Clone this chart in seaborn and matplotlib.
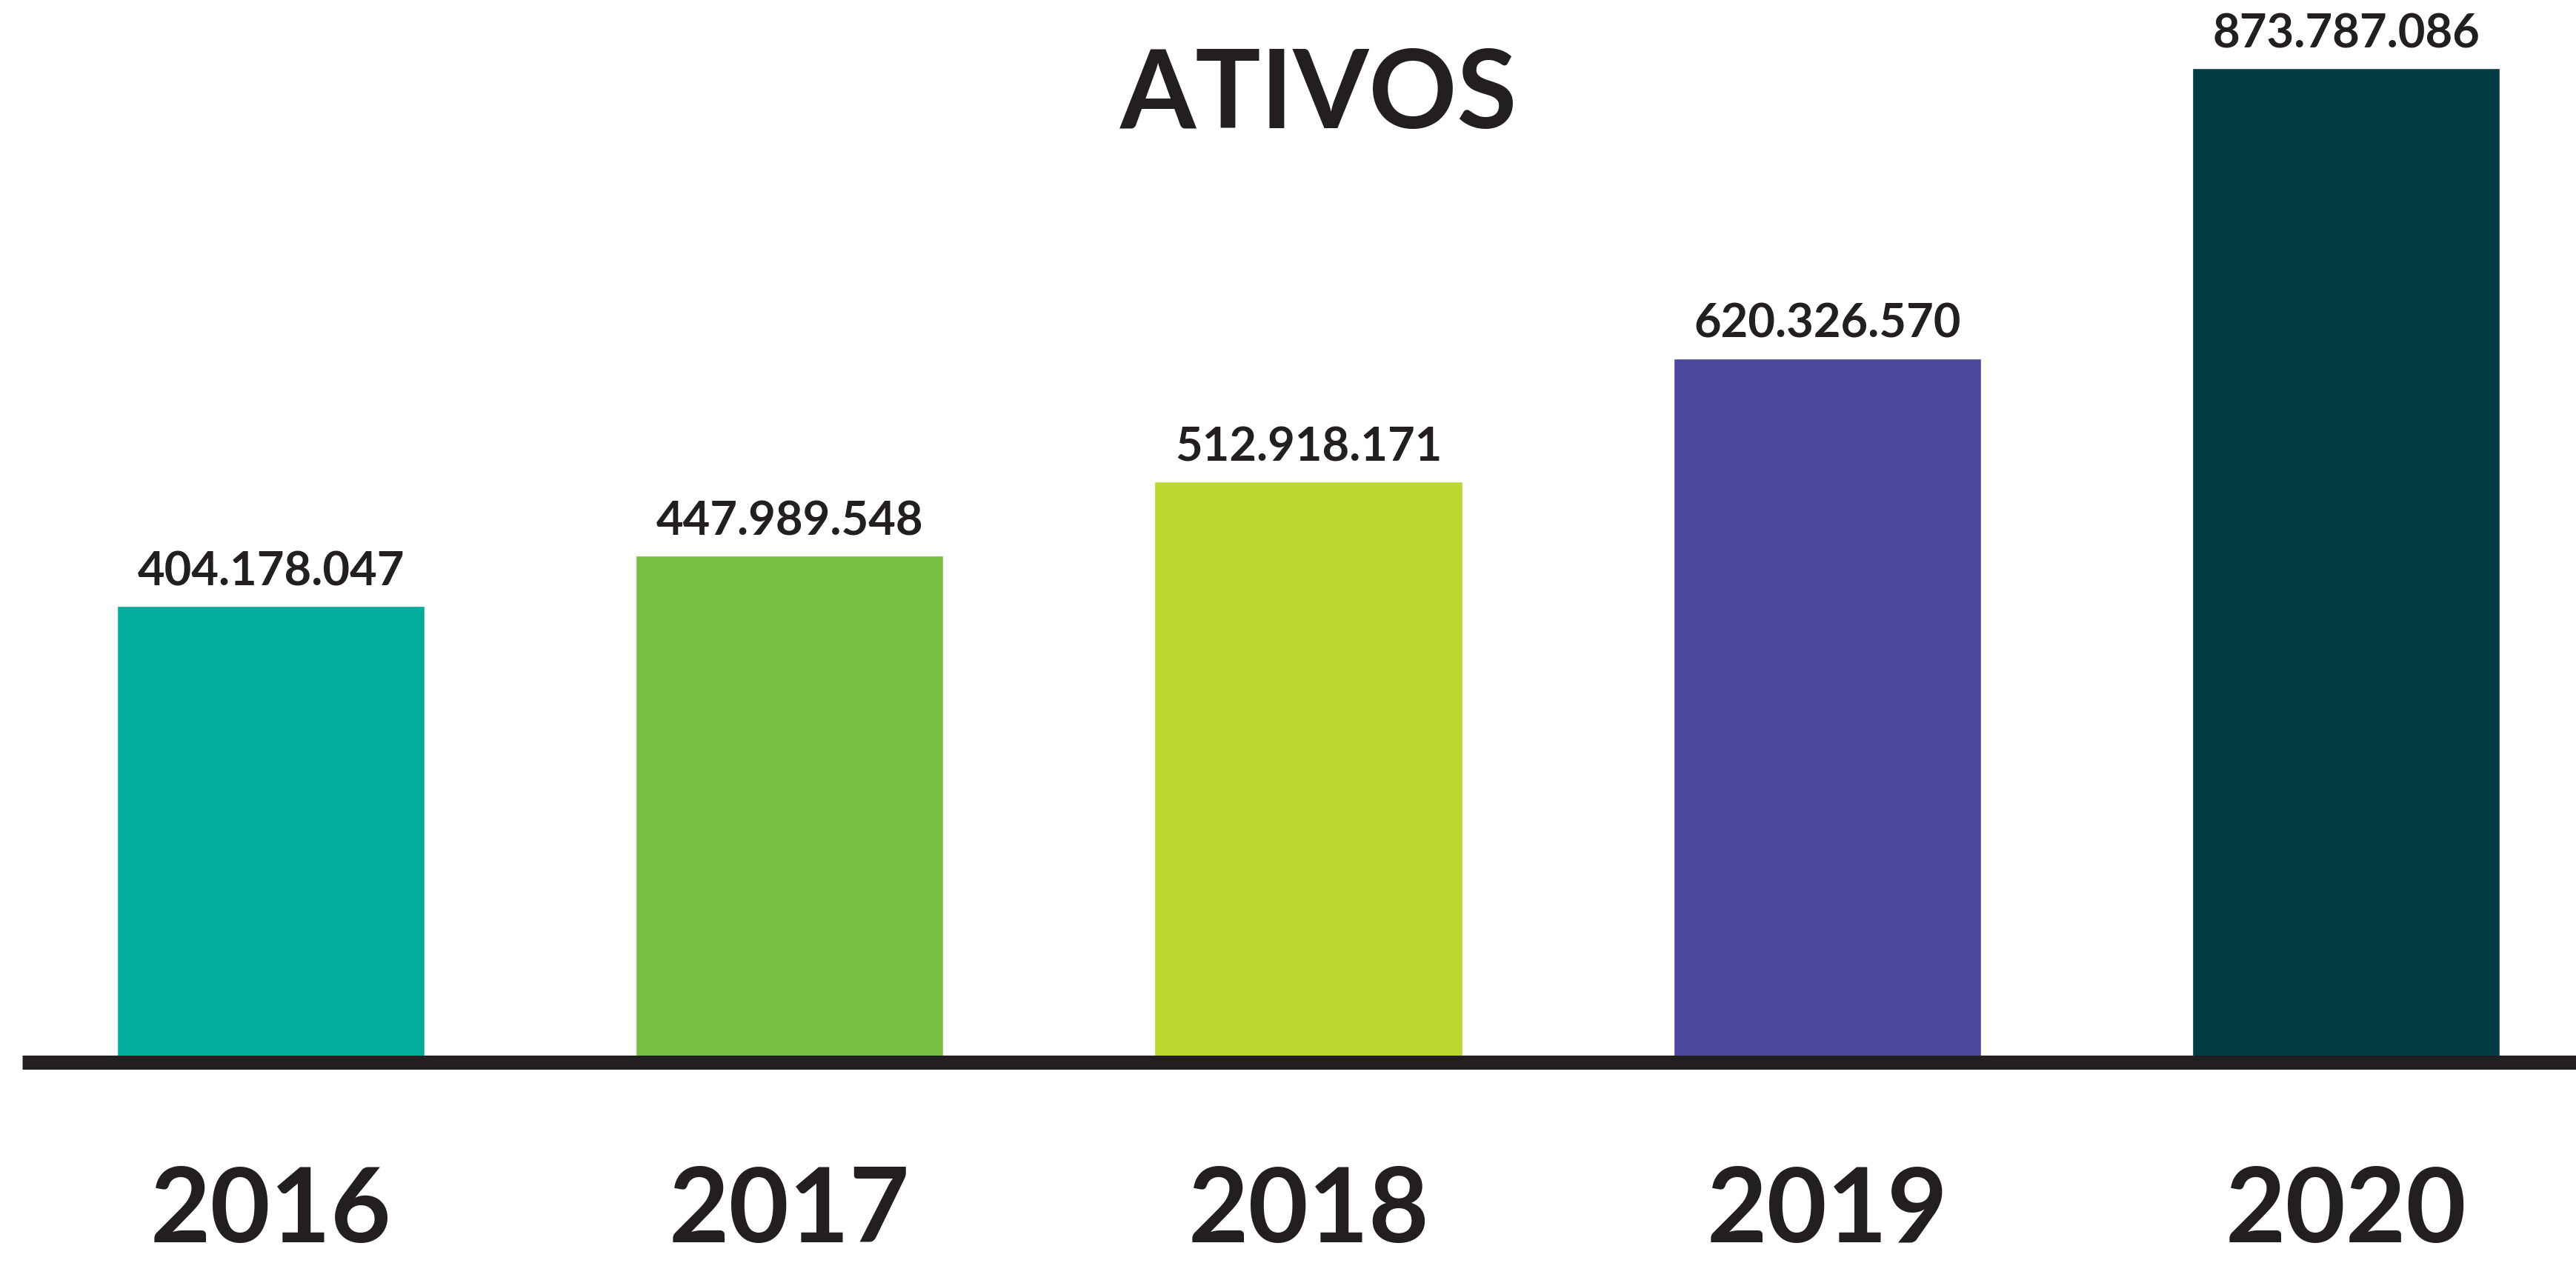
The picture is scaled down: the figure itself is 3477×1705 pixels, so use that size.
import matplotlib
matplotlib.use("Agg")
import matplotlib.pyplot as plt
import matplotlib.transforms as mtransforms
import seaborn as sns

# Data
years = ["2016", "2017", "2018", "2019", "2020"]
ativos = [404178047, 447989548, 512918171, 620326570, 873787086]
labels = ["404.178.047", "447.989.548", "512.918.171", "620.326.570", "873.787.086"]
colors = ["#02AE9B", "#77C044", "#BED731", "#4A479C", "#033C45"]
title = "ATIVOS"

TEXT = "#231F20"
W, H, DPI = 3477, 1706, 100

sns.set_theme(style="white")
plt.rcParams["font.family"] = ["Lato", "DejaVu Sans"]

fig = plt.figure(figsize=(W / DPI, H / DPI), dpi=DPI)
fig.patch.set_facecolor("white")

# axes spans the full width; y = 0 sits on the lower edge of the dark base rule
zero_px = 1444
ymax = 900e6
px_per_unit = 1.546e-6
ax_h = ymax * px_per_unit
ax = fig.add_axes([0, (H - zero_px) / H, 1, ax_h / H])
ax.set_facecolor("white")

sns.barplot(x=years, y=ativos, hue=years, palette=colors, saturation=1,
            width=0.593, legend=False, ax=ax)

ax.set_xlim(-0.522, 4.4434)
ax.set_ylim(0, ymax)
for s in ax.spines.values():
    s.set_visible(False)
ax.set_yticks([])
ax.set_ylabel("")
ax.set_xlabel("")

# base rule
rule_px = 19
rule_y = (rule_px / 2) / px_per_unit
ax.axhline(rule_y, xmin=30 / W, xmax=1, lw=rule_px * 72 / DPI, color=TEXT,
           solid_capstyle="butt", clip_on=False, zorder=3)

# year labels under the rule
ax.tick_params(axis="x", length=0, pad=(1677 - zero_px) * 72 / DPI)
for t in ax.get_xticklabels():
    t.set_fontsize(101)
    t.set_fontweight("bold")
    t.set_color(TEXT)
    t.set_va("baseline")

# value labels above each bar
for i, (v, lab) in enumerate(zip(ativos, labels)):
    ax.annotate(lab, xy=(i, v), xytext=(0, 29 * 72 / DPI),
                textcoords="offset points", ha="center", va="baseline",
                fontsize=45.5, fontweight="bold", color=TEXT)

# title centred over the middle bar
trans = mtransforms.blended_transform_factory(ax.transData, fig.transFigure)
ax.text(2.02, (H - 173) / H, title, transform=trans, ha="center", va="baseline",
        fontsize=106, fontweight="bold", color=TEXT)

fig.savefig("out.png", dpi=DPI, facecolor="white")
